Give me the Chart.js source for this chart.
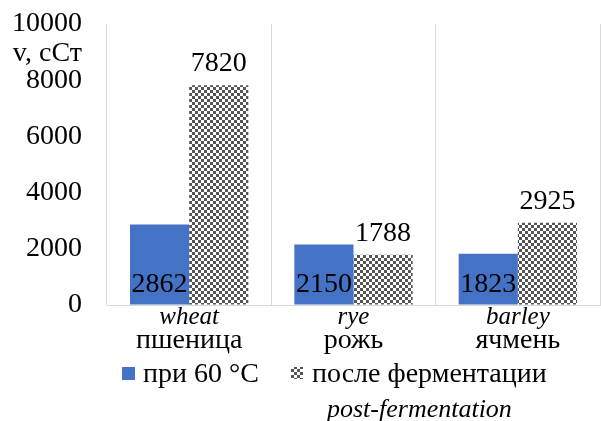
<!DOCTYPE html>
<html>
<head>
<meta charset="utf-8">
<script src="https://cdn.jsdelivr.net/npm/chart.js@4.4.1/dist/chart.umd.min.js"></script>
<style>
  body { margin: 0; background: #fff; }
</style>
</head>
<body>
<canvas id="viscChart" width="601" height="421"></canvas>
<script>
// viscosity of flour suspensions, cSt
const grains = ['пшеница', 'рожь', 'ячмень'];
const grainsEn = ['wheat', 'rye', 'barley'];
const at60 = [2862, 2150, 1823];
const afterFerm = [7820, 1788, 2925];
const yMax = 10000;
const yStep = 2000;

const SERIF = '"Liberation Serif", "Times New Roman", serif';

// small checkerboard fill for the post-fermentation bars
function checker(cell, dark) {
  const c = document.createElement('canvas');
  c.width = c.height = cell * 2;
  const g = c.getContext('2d');
  g.fillStyle = '#fff';
  g.fillRect(0, 0, cell * 2, cell * 2);
  g.fillStyle = dark;
  g.fillRect(0, 0, cell, cell);
  g.fillRect(cell, cell, cell, cell);
  return g.createPattern(c, 'repeat');
}
const checkFill = checker(3, '#555');

const valueLabels = {
  id: 'valueLabels',
  afterDatasetsDraw(chart) {
    const ctx = chart.ctx;
    ctx.save();
    ctx.font = '28px ' + SERIF;
    ctx.fillStyle = '#000';
    ctx.textAlign = 'center';
    ctx.textBaseline = 'alphabetic';
    chart.data.datasets.forEach((ds, di) => {
      chart.getDatasetMeta(di).data.forEach((bar, i) => {
        const y = di === 0 ? bar.base - 13 : bar.y - 14;
        ctx.fillText(String(ds.data[i]), bar.x, y);
      });
    });
    ctx.restore();
  }
};

const categoryLabels = {
  id: 'categoryLabels',
  afterDraw(chart) {
    const ctx = chart.ctx;
    const xs = chart.scales.x;
    ctx.save();
    ctx.fillStyle = '#000';
    ctx.textAlign = 'center';
    ctx.textBaseline = 'middle';
    grains.forEach((g, i) => {
      const x = xs.getPixelForValue(i);
      ctx.font = 'italic 25px ' + SERIF;
      ctx.fillText(grainsEn[i], x, 317);
      ctx.font = '28px ' + SERIF;
      ctx.fillText(g, x, 341);
    });
    // axis unit above the scale
    ctx.textAlign = 'right';
    ctx.font = '28px ' + SERIF;
    ctx.fillText('v, сСт', 82, 54);
    ctx.restore();
  }
};

const legendBlock = {
  id: 'legendBlock',
  afterDraw(chart) {
    const ctx = chart.ctx;
    const ds = chart.data.datasets;
    ctx.save();
    ctx.textBaseline = 'middle';
    ctx.textAlign = 'left';
    ctx.fillStyle = ds[0].backgroundColor;
    ctx.fillRect(122, 367, 13, 13);
    ctx.fillStyle = ds[1].backgroundColor;
    ctx.fillRect(291, 367, 12, 12);
    ctx.fillStyle = '#000';
    ctx.font = '28px ' + SERIF;
    ctx.fillText(ds[0].label, 143, 375);
    ctx.fillText(ds[1].label, 312, 375);
    ctx.font = 'italic 26px ' + SERIF;
    ctx.fillText('post-fermentation', 327, 410);
    ctx.restore();
  }
};

new Chart(document.getElementById('viscChart'), {
  type: 'bar',
  data: {
    labels: grains,
    datasets: [
      { label: 'при 60 °C', data: at60, backgroundColor: '#4472C4' },
      { label: 'после ферментации', data: afterFerm, backgroundColor: checkFill }
    ]
  },
  options: {
    responsive: false,
    animation: false,
    barPercentage: 1,
    categoryPercentage: 0.72,
    layout: { padding: { top: 24, right: 1, left: 0, bottom: 0 } },
    plugins: { legend: { display: false }, tooltip: { enabled: false } },
    scales: {
      x: {
        grid: { color: '#d9d9d9', offset: true, drawTicks: false },
        border: { color: '#d9d9d9' },
        ticks: { display: false },
        afterFit(scale) { scale.height = 116; }
      },
      y: {
        min: 0,
        max: yMax,
        // no horizontal lines; the invisible tick marks only push labels left
        grid: { color: 'transparent', drawOnChartArea: false, drawTicks: true, tickLength: 25 },
        border: { display: false },
        ticks: {
          stepSize: yStep,
          color: '#000',
          padding: 0,
          font: { family: SERIF, size: 28 },
          callback: v => String(v)
        },
        afterFit(scale) { scale.width = 107; }
      }
    }
  },
  plugins: [valueLabels, categoryLabels, legendBlock]
});
</script>
</body>
</html>
